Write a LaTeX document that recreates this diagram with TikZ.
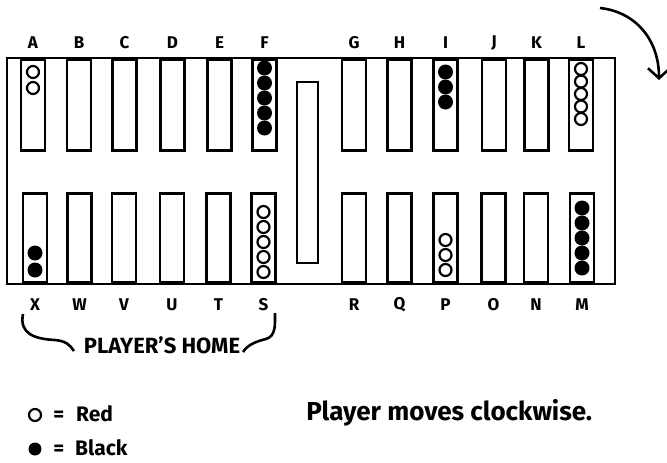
\documentclass[tikz,border=0pt]{standalone}
\usepackage{fontspec}
\setmainfont{Fira Sans}
\usetikzlibrary{arrows.meta}

\begin{document}
\begin{tikzpicture}[x=1pt, y=-1pt, line width=2.6pt, inner sep=0pt,
  spike/.style={draw, minimum width=24pt},
  pttag/.style={font=\fontsize{17}{17}\selectfont\bfseries},
  redman/.style={circle, draw, line width=2.2pt, minimum size=12pt},
  blackman/.style={circle, fill, minimum size=15pt},
  note/.style={anchor=base west, font=\fontsize{21}{21}\selectfont\bfseries}]
\useasboundingbox (0,0) rectangle (667,463);
\node[draw, minimum width=608pt, minimum height=226pt] (board) at (311,171) {};
\node[draw, minimum width=21pt, minimum height=181pt] (bar) at (307.5,172.5) {};
% upper points
\foreach \pt/\px in {A/33,B/79,C/124.5,D/172.5,E/219.5,F/264.5,G/354,H/399.5,I/445.5,J/494,K/536.5,L/581} {
  \node[spike, minimum height=91pt, anchor=north] (p\pt) at (\px,58) {};
  \node[pttag] (t\pt) at (\px,43) {\pt};
}
% lower points
\foreach \pt/\px in {X/35,W/79.5,V/124,U/172,T/218.5,S/263.5,R/354,Q/399.5,P/445.5,O/493.5,N/536,M/582} {
  \node[spike, minimum height=89pt, anchor=south] (p\pt) at (\px,284) {};
  \node[pttag] (t\pt) at (\px,305) {\pt};
}
% checkers
\foreach \cx/\cy [count=\n] in {33/72,33/88,581/69,581/81.5,581/94,581/106.5,581/119,
    263.5/212,263.5/227,263.5/242,263.5/257,263.5/272,445.5/240,445.5/255,445.5/270}
  \node[redman] (red\n) at (\cx,\cy) {};
\foreach \cx/\cy [count=\n] in {264.5/68,264.5/83,264.5/98,264.5/113,264.5/128,445.5/72,445.5/87,445.5/102,
    35/253,35/270,582/208,582/223,582/238,582/253,582/268}
  \node[blackman] (black\n) at (\cx,\cy) {};
% home brace
\node[font=\fontsize{22}{22}\selectfont\bfseries] (home) at (162,345) {PLAYER'S HOME};
\draw (23,314) .. controls (19,334) and (35,339) .. (55,340) .. controls (66,341) and (70,345) .. (74,351);
\draw (243,352) .. controls (248,344) and (258,341) .. (266,339) .. controls (276,336) and (275,325) .. (275,313);
% direction arrow
\coordinate (turnA) at (600,8);
\coordinate (turnB) at (659,80);
\draw[-{Straight Barb[length=10pt,width=22pt]}] (turnA) .. controls (636,12) and (659,40) .. (turnB);
% key
\node[redman] (keyred) at (35,415) {};
\node[blackman, minimum size=13pt] (keyblack) at (35,449) {};
\node[note] (txred) at (52,421) {=\hspace{12pt}Red};
\node[note] (txblack) at (52,455) {=\hspace{11pt}Black};
\node[note, font=\fontsize{26}{26}\selectfont\bfseries] (moves) at (305,420) {Player moves clockwise.};
\end{tikzpicture}
\end{document}
